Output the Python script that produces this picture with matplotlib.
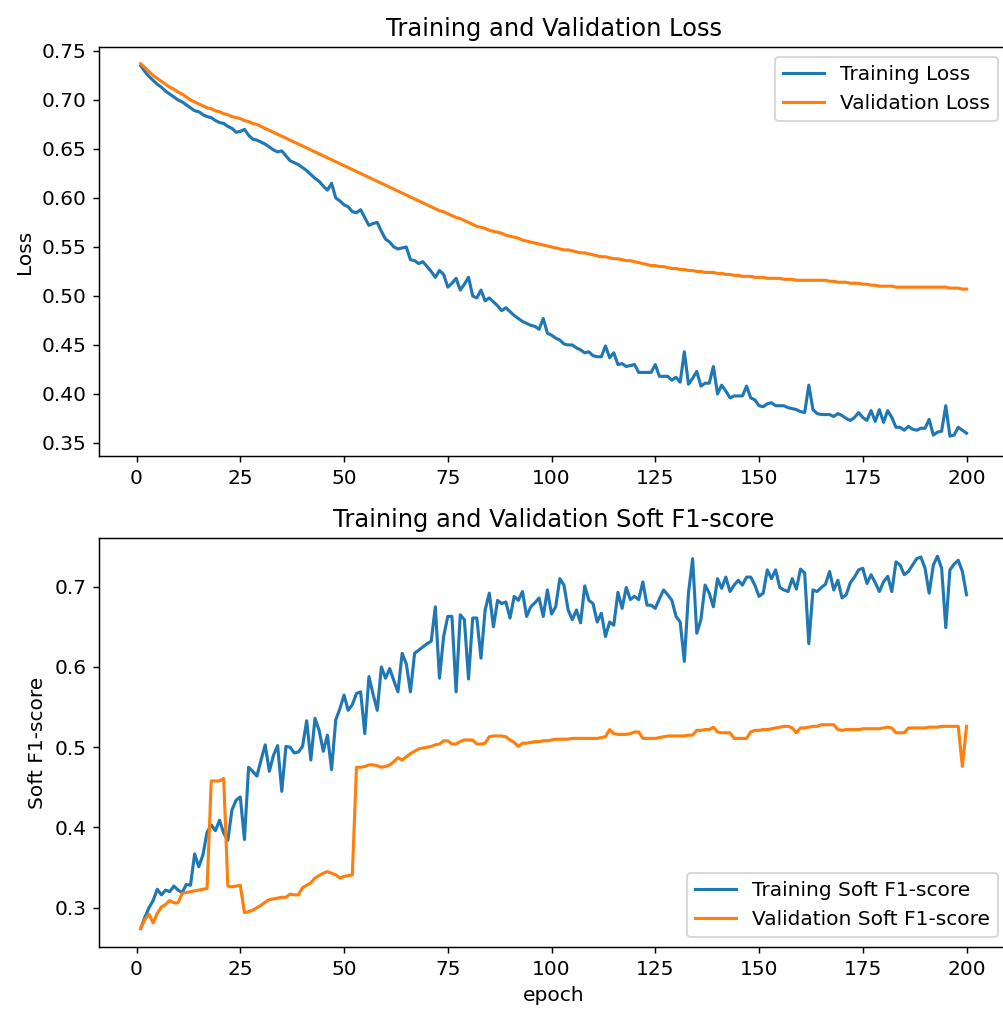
import matplotlib
matplotlib.use('Agg')
import matplotlib.pyplot as plt

# per-epoch values
train_loss = [
    0.735, 0.729, 0.724, 0.720, 0.716, 0.713, 0.709, 0.706, 0.703, 0.700,
    0.698, 0.695, 0.692, 0.689, 0.688, 0.685, 0.683, 0.682, 0.679, 0.677,
    0.676, 0.673, 0.671, 0.667, 0.668, 0.670, 0.664, 0.660, 0.659, 0.657,
    0.655, 0.652, 0.649, 0.647, 0.648, 0.643, 0.638, 0.636, 0.634, 0.631,
    0.628, 0.624, 0.620, 0.617, 0.612, 0.608, 0.615, 0.600, 0.597, 0.593,
    0.591, 0.586, 0.585, 0.588, 0.580, 0.572, 0.574, 0.575, 0.566, 0.558,
    0.555, 0.550, 0.548, 0.549, 0.550, 0.537, 0.536, 0.533, 0.535, 0.530,
    0.525, 0.519, 0.526, 0.522, 0.509, 0.513, 0.518, 0.506, 0.512, 0.519,
    0.500, 0.498, 0.506, 0.495, 0.498, 0.494, 0.490, 0.485, 0.488, 0.484,
    0.480, 0.477, 0.474, 0.472, 0.470, 0.469, 0.466, 0.477, 0.462, 0.460,
    0.457, 0.455, 0.451, 0.450, 0.450, 0.447, 0.445, 0.442, 0.443, 0.439,
    0.438, 0.438, 0.449, 0.437, 0.442, 0.430, 0.431, 0.428, 0.429, 0.430,
    0.422, 0.422, 0.422, 0.422, 0.430, 0.418, 0.418, 0.418, 0.414, 0.417,
    0.412, 0.443, 0.410, 0.416, 0.423, 0.408, 0.411, 0.411, 0.428, 0.400,
    0.409, 0.403, 0.396, 0.398, 0.398, 0.398, 0.408, 0.396, 0.394, 0.388,
    0.387, 0.390, 0.391, 0.388, 0.388, 0.388, 0.386, 0.385, 0.384, 0.382,
    0.381, 0.409, 0.384, 0.380, 0.379, 0.379, 0.379, 0.377, 0.380, 0.378,
    0.375, 0.373, 0.376, 0.381, 0.376, 0.373, 0.383, 0.372, 0.384, 0.371,
    0.383, 0.376, 0.366, 0.366, 0.363, 0.367, 0.364, 0.363, 0.365, 0.365,
    0.374, 0.358, 0.361, 0.362, 0.388, 0.357, 0.358, 0.366, 0.363, 0.360,
]

val_loss = [
    0.737, 0.733, 0.729, 0.725, 0.722, 0.719, 0.716, 0.713, 0.711, 0.708,
    0.706, 0.703, 0.700, 0.698, 0.696, 0.694, 0.692, 0.691, 0.689, 0.688,
    0.686, 0.685, 0.683, 0.682, 0.681, 0.679, 0.678, 0.676, 0.675, 0.673,
    0.671, 0.669, 0.667, 0.665, 0.663, 0.661, 0.659, 0.657, 0.655, 0.653,
    0.651, 0.649, 0.647, 0.645, 0.643, 0.641, 0.639, 0.637, 0.635, 0.633,
    0.631, 0.629, 0.627, 0.625, 0.623, 0.621, 0.619, 0.617, 0.615, 0.613,
    0.611, 0.609, 0.607, 0.605, 0.603, 0.601, 0.599, 0.597, 0.595, 0.593,
    0.591, 0.589, 0.587, 0.586, 0.584, 0.582, 0.580, 0.579, 0.577, 0.575,
    0.573, 0.571, 0.570, 0.569, 0.567, 0.566, 0.565, 0.564, 0.562, 0.561,
    0.560, 0.559, 0.557, 0.556, 0.555, 0.554, 0.553, 0.552, 0.551, 0.550,
    0.549, 0.548, 0.547, 0.547, 0.546, 0.545, 0.544, 0.544, 0.543, 0.542,
    0.541, 0.540, 0.540, 0.539, 0.538, 0.538, 0.537, 0.536, 0.536, 0.535,
    0.534, 0.533, 0.532, 0.531, 0.531, 0.530, 0.530, 0.529, 0.528, 0.528,
    0.527, 0.527, 0.526, 0.526, 0.525, 0.525, 0.524, 0.524, 0.524, 0.523,
    0.523, 0.522, 0.522, 0.521, 0.521, 0.520, 0.520, 0.520, 0.519, 0.519,
    0.519, 0.518, 0.518, 0.518, 0.518, 0.517, 0.517, 0.517, 0.516, 0.516,
    0.516, 0.516, 0.516, 0.516, 0.516, 0.516, 0.515, 0.515, 0.514, 0.514,
    0.514, 0.513, 0.513, 0.513, 0.512, 0.512, 0.511, 0.511, 0.510, 0.510,
    0.510, 0.510, 0.509, 0.509, 0.509, 0.509, 0.509, 0.509, 0.509, 0.509,
    0.509, 0.509, 0.509, 0.509, 0.509, 0.508, 0.508, 0.508, 0.507, 0.507,
]

train_f1 = [
    0.274, 0.288, 0.300, 0.309, 0.323, 0.316, 0.322, 0.320, 0.327, 0.322,
    0.319, 0.329, 0.328, 0.367, 0.351, 0.366, 0.394, 0.403, 0.396, 0.409,
    0.393, 0.384, 0.422, 0.434, 0.438, 0.385, 0.475, 0.470, 0.464, 0.484,
    0.503, 0.470, 0.490, 0.502, 0.445, 0.501, 0.500, 0.493, 0.494, 0.501,
    0.533, 0.484, 0.536, 0.521, 0.495, 0.515, 0.472, 0.534, 0.548, 0.565,
    0.546, 0.553, 0.567, 0.569, 0.517, 0.588, 0.566, 0.546, 0.600, 0.586,
    0.598, 0.583, 0.569, 0.617, 0.604, 0.569, 0.617, 0.621, 0.625, 0.629,
    0.632, 0.675, 0.586, 0.638, 0.663, 0.663, 0.569, 0.665, 0.659, 0.585,
    0.661, 0.661, 0.611, 0.671, 0.692, 0.650, 0.683, 0.679, 0.681, 0.661,
    0.688, 0.683, 0.694, 0.663, 0.675, 0.680, 0.686, 0.663, 0.696, 0.666,
    0.675, 0.710, 0.702, 0.671, 0.659, 0.671, 0.655, 0.701, 0.683, 0.679,
    0.656, 0.667, 0.638, 0.656, 0.652, 0.693, 0.673, 0.699, 0.684, 0.688,
    0.684, 0.706, 0.677, 0.677, 0.673, 0.685, 0.696, 0.690, 0.683, 0.663,
    0.656, 0.607, 0.692, 0.735, 0.642, 0.659, 0.702, 0.692, 0.675, 0.710,
    0.698, 0.712, 0.694, 0.702, 0.708, 0.702, 0.712, 0.712, 0.702, 0.688,
    0.692, 0.721, 0.710, 0.721, 0.699, 0.696, 0.694, 0.710, 0.697, 0.722,
    0.717, 0.629, 0.696, 0.694, 0.699, 0.703, 0.719, 0.696, 0.708, 0.686,
    0.690, 0.705, 0.712, 0.721, 0.723, 0.704, 0.715, 0.705, 0.694, 0.706,
    0.713, 0.694, 0.731, 0.727, 0.715, 0.719, 0.727, 0.735, 0.737, 0.723,
    0.692, 0.727, 0.738, 0.723, 0.649, 0.721, 0.728, 0.733, 0.719, 0.690,
]

val_f1 = [
    0.274, 0.285, 0.292, 0.281, 0.293, 0.301, 0.304, 0.309, 0.306, 0.306,
    0.318, 0.319, 0.320, 0.321, 0.322, 0.323, 0.324, 0.458, 0.458, 0.458,
    0.461, 0.327, 0.326, 0.327, 0.328, 0.294, 0.295, 0.297, 0.300, 0.303,
    0.307, 0.310, 0.311, 0.312, 0.313, 0.313, 0.317, 0.316, 0.316, 0.325,
    0.328, 0.331, 0.337, 0.340, 0.343, 0.345, 0.343, 0.341, 0.337, 0.339,
    0.340, 0.341, 0.475, 0.475, 0.476, 0.478, 0.478, 0.477, 0.475, 0.476,
    0.478, 0.482, 0.487, 0.484, 0.488, 0.492, 0.495, 0.498, 0.499, 0.500,
    0.501, 0.503, 0.504, 0.508, 0.508, 0.504, 0.504, 0.507, 0.509, 0.509,
    0.509, 0.504, 0.504, 0.505, 0.513, 0.514, 0.514, 0.514, 0.513, 0.509,
    0.506, 0.501, 0.505, 0.505, 0.506, 0.507, 0.507, 0.508, 0.508, 0.509,
    0.510, 0.510, 0.510, 0.510, 0.511, 0.511, 0.511, 0.511, 0.511, 0.511,
    0.511, 0.512, 0.513, 0.522, 0.517, 0.516, 0.516, 0.516, 0.517, 0.519,
    0.519, 0.511, 0.511, 0.511, 0.511, 0.512, 0.513, 0.514, 0.514, 0.514,
    0.514, 0.514, 0.515, 0.515, 0.521, 0.521, 0.522, 0.522, 0.525, 0.519,
    0.518, 0.518, 0.518, 0.511, 0.511, 0.511, 0.511, 0.519, 0.521, 0.521,
    0.522, 0.522, 0.523, 0.524, 0.525, 0.526, 0.526, 0.524, 0.518, 0.524,
    0.524, 0.525, 0.526, 0.526, 0.528, 0.528, 0.528, 0.528, 0.522, 0.521,
    0.522, 0.522, 0.522, 0.522, 0.523, 0.523, 0.523, 0.523, 0.523, 0.524,
    0.525, 0.524, 0.518, 0.518, 0.518, 0.524, 0.524, 0.524, 0.524, 0.524,
    0.525, 0.525, 0.525, 0.526, 0.526, 0.526, 0.526, 0.526, 0.476, 0.526,
]

epochs = list(range(1, len(train_loss) + 1))

plt.rcParams['font.size'] = 11
plt.rcParams['lines.linewidth'] = 1.7

fig = plt.figure(figsize=(1003 / 132, 1014 / 132), dpi=132)

# loss panel
ax1 = fig.add_axes([0.0991, 0.5503, 0.9057, 0.4034])
ax1.plot(epochs, train_loss, label='Training Loss')
ax1.plot(epochs, val_loss, label='Validation Loss')
ax1.set_ylim(0.3367, 0.7541)
ax1.set_xticks(range(0, 201, 25))
ax1.set_ylabel('Loss')
ax1.set_title('Training and Validation Loss')
ax1.legend(loc='upper right')

# f1 panel
ax2 = fig.add_axes([0.0991, 0.0658, 0.9057, 0.4033])
ax2.plot(epochs, train_f1, label='Training Soft F1-score')
ax2.plot(epochs, val_f1, label='Validation Soft F1-score')
ax2.set_ylim(0.2507, 0.7603)
ax2.set_xticks(range(0, 201, 25))
ax2.set_xlabel('epoch')
ax2.set_ylabel('Soft F1-score')
ax2.set_title('Training and Validation Soft F1-score')
ax2.legend(loc='lower right')

plt.savefig('out.png', dpi=132)
plt.close()
